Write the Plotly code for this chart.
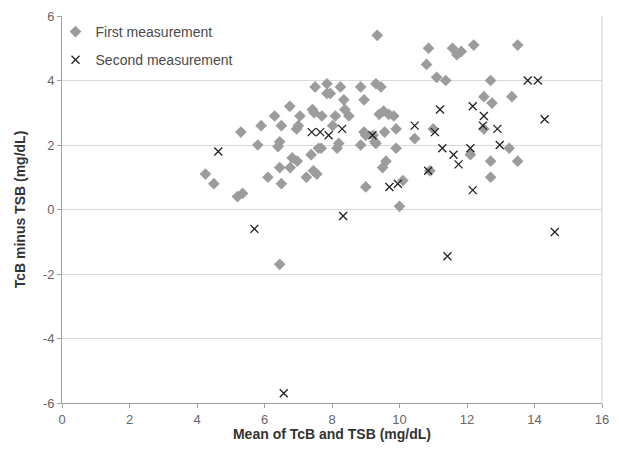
import plotly.graph_objects as go

# First measurement (gray diamonds)
first_x = [4.25, 4.5, 5.2, 5.35, 5.3, 5.8, 5.9, 6.1, 6.3, 6.4, 6.45, 6.5, 6.5, 6.45, 6.45,
           6.75, 6.76, 6.82, 6.97, 7.0, 6.95, 7.05, 7.24, 7.38, 7.42, 7.47, 7.45, 7.55, 7.5,
           7.6, 7.68, 7.7, 7.85, 7.95, 7.85, 8.02, 8.1, 8.2, 8.15, 8.25, 8.35, 8.38, 8.5,
           8.85, 8.95, 8.85, 8.95, 9.0, 9.0, 9.27, 9.3, 9.3, 9.34, 9.45, 9.4, 9.53, 9.68,
           9.83, 9.56, 9.5, 9.6, 9.9, 9.9, 10.0, 10.1, 10.45, 10.8, 10.86, 10.9, 11.0, 11.1,
           11.37, 11.57, 11.7, 11.83, 12.1, 12.2, 12.5, 12.5, 12.7, 12.74, 12.7, 12.7, 13.25,
           13.33, 13.5, 13.5, 9.22]
first_y = [1.1, 0.8, 0.4, 0.5, 2.4, 2.0, 2.6, 1.0, 2.9, 1.95, 2.1, 0.8, 2.6, 1.3, -1.7,
           3.2, 1.3, 1.6, 1.5, 2.6, 2.5, 2.9, 1.0, 1.7, 3.1, 3.0, 1.2, 1.1, 3.8,
           1.9, 1.9, 2.9, 3.6, 3.6, 3.9, 2.6, 2.9, 2.05, 1.9, 3.8, 3.4, 3.1, 2.9,
           3.8, 3.4, 2.0, 2.4, 2.3, 0.7, 2.1, 2.05, 3.9, 5.4, 3.8, 2.95, 3.05, 2.95,
           2.9, 2.4, 1.3, 1.5, 2.5, 1.9, 0.1, 0.9, 2.2, 4.5, 5.0, 1.2, 2.5, 4.1,
           4.0, 5.0, 4.8, 4.9, 1.7, 5.1, 3.5, 2.5, 4.0, 3.3, 1.5, 1.0, 1.9,
           3.5, 1.5, 5.1, 2.3]

# Second measurement (black crosses)
second_x = [4.63, 5.7, 6.57, 7.4, 7.65, 7.9, 8.3, 8.33, 9.2, 9.7, 9.95, 10.45, 10.85, 11.05,
            11.2, 11.27, 11.42, 11.6, 11.75, 12.1, 12.17, 12.17, 12.47, 12.5, 12.9, 12.97,
            13.8, 14.1, 14.3, 14.6]
second_y = [1.8, -0.6, -5.7, 2.4, 2.4, 2.3, 2.5, -0.2, 2.3, 0.7, 0.8, 2.6, 1.2, 2.4,
            3.1, 1.9, -1.45, 1.7, 1.4, 1.9, 3.2, 0.6, 2.6, 2.9, 2.5, 2.0,
            4.0, 4.0, 2.8, -0.7]

x_ticks = [0, 2, 4, 6, 8, 10, 12, 14, 16]
y_ticks = [-6, -4, -2, 0, 2, 4, 6]
y_tick_labels = ["-6", "-4", "-2", "0", "2", "4", "6"]

FONT = "Liberation Sans, Arial, sans-serif"

fig = go.Figure()
fig.add_trace(go.Scatter(
    x=first_x, y=first_y, mode="markers", name="First measurement",
    legendgroup="a",
    marker=dict(symbol="diamond", size=9, color="#9c9c9c", line=dict(width=0)),
))
fig.add_trace(go.Scatter(
    x=second_x, y=second_y, mode="markers", name="Second measurement",
    legendgroup="b",
    marker=dict(symbol="x-thin-open", size=8, color="#222222",
                line=dict(width=1.3, color="#222222")),
))

fig.update_layout(
    width=603, height=434,
    margin=dict(l=54, r=9, t=8, b=39, autoexpand=False),
    paper_bgcolor="white", plot_bgcolor="white",
    font=dict(family=FONT, size=13, color="#555555"),
    showlegend=True,
    legend=dict(x=-0.012, y=1.0, xanchor="left", yanchor="top",
                bgcolor="rgba(0,0,0,0)", tracegroupgap=7,
                font=dict(size=14, color="#4a4a4a")),
    xaxis=dict(range=[0, 16], tickvals=x_ticks, showgrid=False, zeroline=False,
               automargin=False,
               showline=True, linecolor="#a0a0a0", linewidth=1,
               ticks="outside", ticklen=4, tickcolor="#a0a0a0",
               tickfont=dict(size=13, color="#666666"),
               title=dict(text="<b>Mean of TcB and TSB (mg/dL)</b>", standoff=2,
                          font=dict(size=14, color="#333333"))),
    yaxis=dict(range=[-6, 6], tickvals=y_ticks, ticktext=y_tick_labels,
               showgrid=True, gridcolor="#d9d9d9",
               gridwidth=1, zeroline=False, automargin=False,
               showline=True, linecolor="#a0a0a0", linewidth=1,
               ticks="outside", ticklen=4, tickcolor="#a0a0a0",
               tickfont=dict(size=13, color="#666666"),
               title=dict(text="<b>TcB minus TSB (mg/dL)</b>", standoff=13,
                          font=dict(size=14, color="#333333"))),
    shapes=[dict(type="line", xref="paper", yref="paper", x0=1, x1=1, y0=0, y1=1,
                 line=dict(color="#d0d0d0", width=1))],
)

fig.write_html("out.html")
